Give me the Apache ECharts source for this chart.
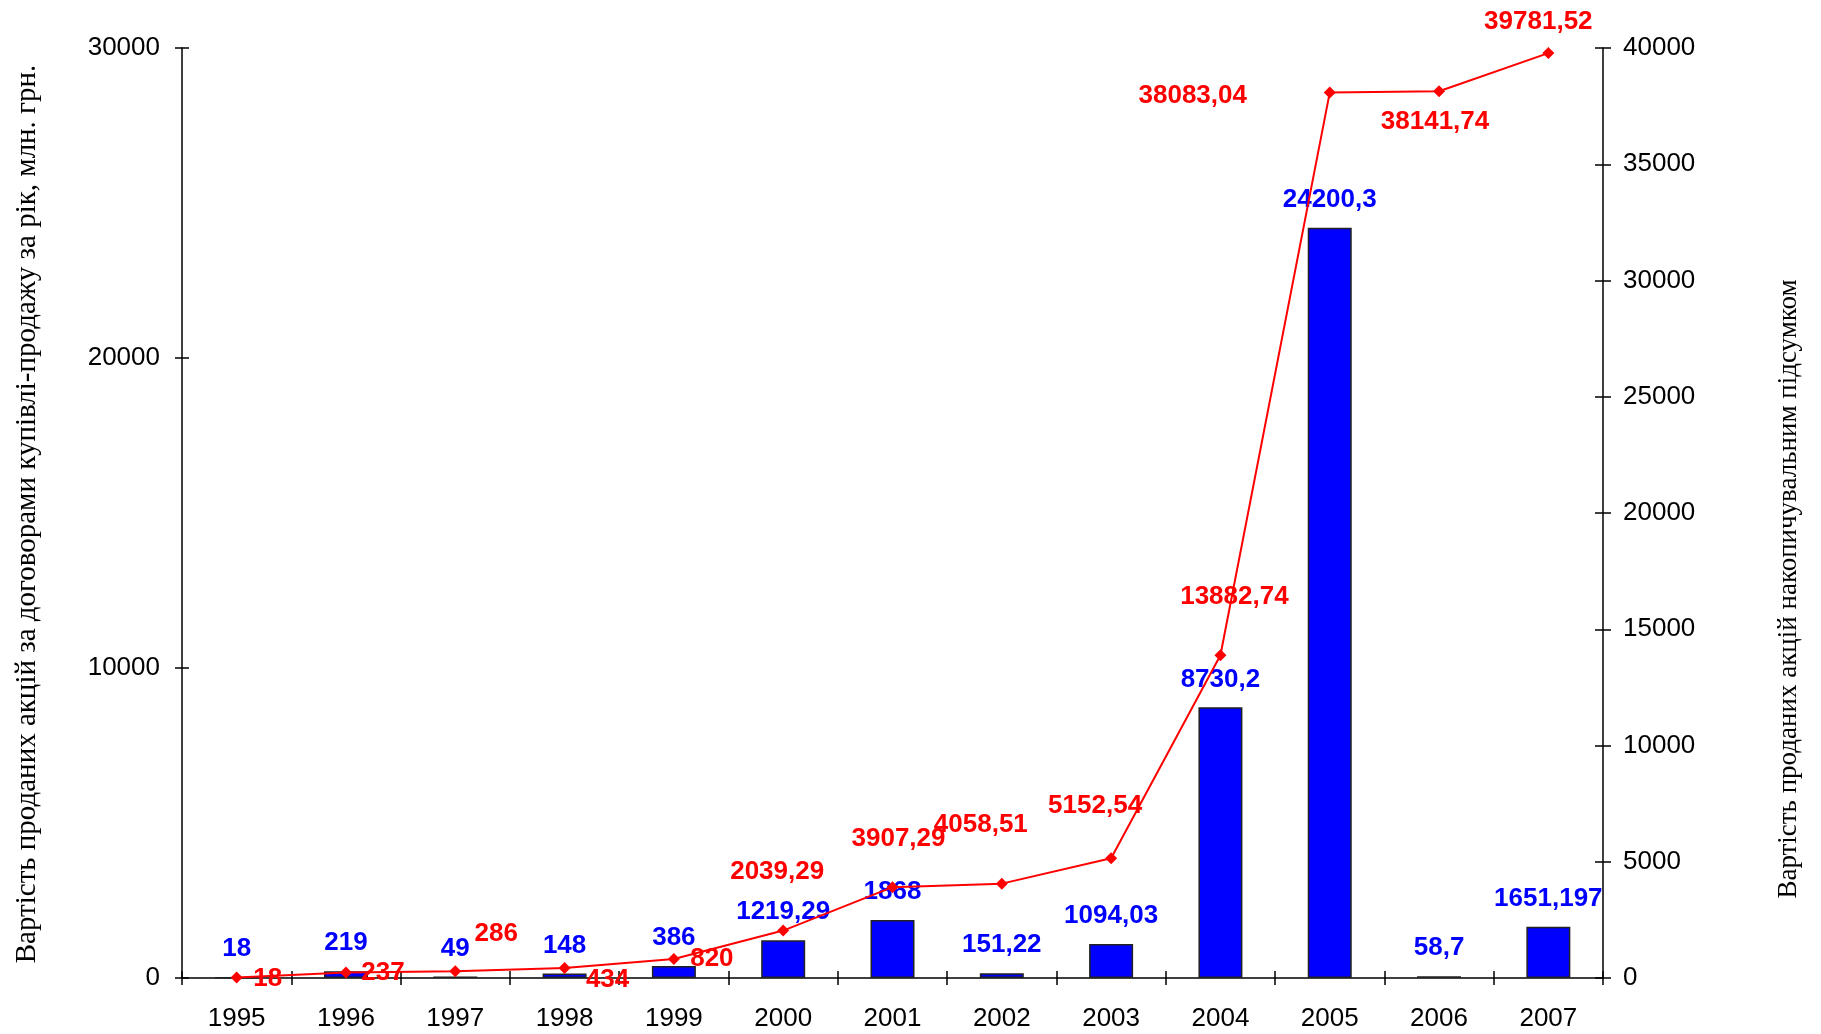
<!DOCTYPE html>
<html>
<head>
<meta charset="utf-8">
<script src="https://cdn.jsdelivr.net/npm/echarts@6/dist/echarts.min.js"></script>
<style>
html,body{margin:0;padding:0;background:#fff;}
#chart{width:1821px;height:1034px;}
</style>
</head>
<body>
<div id="chart"></div>
<script>
const years = ['1995','1996','1997','1998','1999','2000','2001','2002','2003','2004','2005','2006','2007'];
const annualValues = [18, 219, 49, 148, 386, 1219.29, 1868, 151.22, 1094.03, 8730.2, 24200.3, 58.7, 1651.197];
const cumulativeValues = [18, 237, 286, 434, 820, 2039.29, 3907.29, 4058.51, 5152.54, 13882.74, 38083.04, 38141.74, 39781.52];
const leftAxisMax = 30000, leftAxisStep = 10000;
const rightAxisMax = 40000, rightAxisStep = 5000;
const leftTitle = 'Вартість проданих акцій за договорами купівлі-продажу за рік, млн. грн.';
const rightTitle = 'Вартість проданих акцій накопичувальним підсумком';

// label placement offsets for the cumulative line (style, not data)
const lineLabelOffsets = [[31,1],[37,0],[41,-38],[43,12],[38,0],[-6,-59],[6,-48],[-21,-59],[-16,-52],[14,-58],[-137,3],[-4,31],[-10,-31]];

const fmt = v => String(v).replace('.', ',');
const tickFont = {fontFamily:'"Liberation Sans", Arial, sans-serif', fontSize:26, color:'#000', formatter: v => String(v)};

const chart = echarts.init(document.getElementById('chart'), null, {renderer:'canvas'});
const grid = {left:182, right:218, top:48, bottom:56};

const option = {
  backgroundColor:'#fff',
  animation:false,
  grid: grid,
  xAxis: [
    {type:'category', data:years, boundaryGap:true,
     axisLine:{show:true, lineStyle:{color:'#000', width:1.5}},
     axisTick:{show:true, length:7, lineStyle:{color:'#000', width:1.5}},
     axisLabel:Object.assign({}, tickFont, {margin:28, formatter: v => v}),
     splitLine:{show:false}},
    {type:'category', data:years, boundaryGap:true, position:'bottom', gridIndex:0,
     axisLine:{show:false},
     axisTick:{show:true, inside:true, length:7, lineStyle:{color:'#000', width:1.5}},
     axisLabel:{show:false}, splitLine:{show:false}}
  ],
  yAxis: [
    {type:'value', position:'left', min:0, max:leftAxisMax, interval:leftAxisStep,
     axisLine:{show:true, lineStyle:{color:'#000', width:1.5}},
     axisTick:{show:true, length:7, lineStyle:{color:'#000', width:1.5}},
     axisLabel:Object.assign({margin:22}, tickFont),
     splitLine:{show:false}},
    {type:'value', position:'right', min:0, max:rightAxisMax, interval:rightAxisStep,
     axisLine:{show:true, lineStyle:{color:'#000', width:1.5}},
     axisTick:{show:true, length:8, lineStyle:{color:'#000', width:1.5}},
     axisLabel:Object.assign({margin:20}, tickFont),
     splitLine:{show:false}},
    {type:'value', position:'left', min:0, max:leftAxisMax, interval:leftAxisStep,
     axisLine:{show:false},
     axisTick:{show:true, inside:true, length:7, lineStyle:{color:'#000', width:1.5}},
     axisLabel:{show:false}, splitLine:{show:false}},
    {type:'value', position:'right', min:0, max:rightAxisMax, interval:rightAxisStep,
     axisLine:{show:false},
     axisTick:{show:true, inside:true, length:8, lineStyle:{color:'#000', width:1.5}},
     axisLabel:{show:false}, splitLine:{show:false}}
  ],
  series: [
    {type:'bar', name:'annual', xAxisIndex:0, yAxisIndex:0, data:annualValues,
     barWidth:44,
     itemStyle:{color:'#0000FF', borderColor:'#222', borderWidth:1.5},
     label:{show:true, position:'top', distance:15, formatter:p=>fmt(p.value),
       color:'#0000FF', fontWeight:'bold', fontSize:26, fontFamily:'"Liberation Sans", Arial, sans-serif'},
     z:2},
    {type:'line', name:'cumulative', xAxisIndex:0, yAxisIndex:1,
     data: cumulativeValues.map((v,i)=>({value:v, label:{offset:lineLabelOffsets[i]}})),
     symbol:'diamond', symbolSize:12,
     lineStyle:{color:'#FF0000', width:2},
     itemStyle:{color:'#FF0000'},
     label:{show:true, position:'inside', formatter:p=>fmt(p.value),
       color:'#FF0000', fontWeight:'bold', fontSize:26, fontFamily:'"Liberation Sans", Arial, sans-serif'},
     z:3}
  ],
  graphic: [
    {type:'text', x:27, y:514, rotation:Math.PI/2,
     style:{text:leftTitle, font:'29px "Liberation Serif", "Times New Roman", serif', fill:'#000', textAlign:'center', textVerticalAlign:'middle'}},
    {type:'text', x:1789, y:589, rotation:Math.PI/2,
     style:{text:rightTitle, font:'27px "Liberation Serif", "Times New Roman", serif', fill:'#000', textAlign:'center', textVerticalAlign:'middle'}}
  ]
};
chart.setOption(option);
</script>
</body>
</html>
